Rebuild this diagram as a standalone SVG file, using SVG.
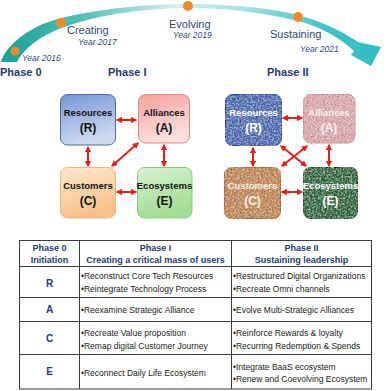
<svg xmlns="http://www.w3.org/2000/svg" width="387" height="391" viewBox="0 0 387 391">
<defs>
<linearGradient id="tl" gradientUnits="userSpaceOnUse" x1="0" y1="0" x2="387" y2="0">
<stop offset="0" stop-color="#16a096"/><stop offset="0.2" stop-color="#4dbdb6"/><stop offset="0.45" stop-color="#d2efee"/><stop offset="0.62" stop-color="#a9e2e2"/><stop offset="0.85" stop-color="#3ec3c5"/><stop offset="1" stop-color="#2ebcc0"/>
</linearGradient>
<linearGradient id="gR" x1="0" y1="0" x2="0.3" y2="1"><stop offset="0" stop-color="#7595d6"/><stop offset="1" stop-color="#cfdaf1"/></linearGradient>
<linearGradient id="gA" x1="0" y1="0" x2="0.3" y2="1"><stop offset="0" stop-color="#f5a19c"/><stop offset="1" stop-color="#fde0dd"/></linearGradient>
<linearGradient id="gC" x1="0" y1="0" x2="0.3" y2="1"><stop offset="0" stop-color="#fee8cf"/><stop offset="1" stop-color="#f9c189"/></linearGradient>
<linearGradient id="gE" x1="0" y1="0" x2="0.3" y2="1"><stop offset="0" stop-color="#d8f2d1"/><stop offset="1" stop-color="#a3dc95"/></linearGradient>
<filter id="grain" x="-5%" y="-5%" width="110%" height="110%">
<feTurbulence type="fractalNoise" baseFrequency="0.55" numOctaves="2" seed="4" result="n"/>
<feColorMatrix in="n" type="matrix" values="0 0 0 0 0  0 0 0 0 0  0 0 0 0 0  0 0 0 -1.3 0.72" result="dk"/>
<feComposite in="dk" in2="SourceAlpha" operator="in" result="d2"/>
<feColorMatrix in="n" type="matrix" values="0 0 0 0 1  0 0 0 0 1  0 0 0 0 1  1.1 0 0 0 -0.48" result="lt"/>
<feComposite in="lt" in2="SourceAlpha" operator="in" result="l2"/>
<feMerge><feMergeNode in="SourceGraphic"/><feMergeNode in="d2"/><feMergeNode in="l2"/></feMerge>
</filter>
<marker id="ah" viewBox="0 0 10 10" refX="8" refY="5" markerWidth="3.2" markerHeight="3.2" orient="auto-start-reverse">
<path d="M0,0 L10,5 L0,10 z" fill="#e3201b"/>
</marker>
<style>
.ph{font-family:"Liberation Sans",Arial,sans-serif;font-weight:bold;font-size:11px;fill:#1f3b73}
.st{font-family:"Liberation Sans",Arial,sans-serif;font-size:11px;fill:#2b4a7c}
.yr{font-family:"Liberation Sans",Arial,sans-serif;font-style:italic;font-size:8.5px;fill:#2b4a7c}
.nm{font-family:"Liberation Sans",Arial,sans-serif;font-weight:bold;font-size:9.5px;text-anchor:middle;fill:#111}
.lt{font-family:"Liberation Sans",Arial,sans-serif;font-weight:bold;font-size:12px;text-anchor:middle;fill:#111}
.w{fill:#ffffff}
.con line{stroke:#e3201b;stroke-width:2;marker-start:url(#ah);marker-end:url(#ah)}
.th{font-family:"Liberation Sans",Arial,sans-serif;font-weight:bold;font-size:9px;text-anchor:middle;fill:#1f3b73}
.tl{font-family:"Liberation Sans",Arial,sans-serif;font-weight:bold;font-size:10px;text-anchor:middle;fill:#1f3b73}
.tx{font-family:"Liberation Sans",Arial,sans-serif;font-size:8.5px;fill:#222}
.grid{stroke:#3c3c3c;stroke-width:1;fill:none}
.dot{fill:#f28a2c}
</style>
</defs>
<rect width="387" height="391" fill="#ffffff"/>

<g id="timeline">
<path d="M1,62 C6,45 30,26 58,19 C100,8 150,4 188,4 C230,4 270,8 298,15 C320,21 340,30 358,42 L381,47 L371,66 L351,55 L354,51 C340,38 322,27 298,21 C270,14 230,8 188,8 C150,8 100,14 64,27 C40,36 24,48 17,62 Z" fill="url(#tl)"/>
<circle class="dot" cx="15" cy="51" r="4.5"/>
<circle class="dot" cx="61" cy="23" r="5"/>
<circle class="dot" cx="188" cy="6" r="5"/>
<circle class="dot" cx="298" cy="17" r="5"/>
<text class="yr" x="22" y="61">Year 2016</text>
<text class="st" x="67" y="34">Creating</text>
<text class="yr" x="78" y="45">Year 2017</text>
<text class="st" x="169" y="28">Evolving</text>
<text class="yr" x="173" y="38">Year 2019</text>
<text class="st" x="270" y="38">Sustaining</text>
<text class="yr" x="300" y="52">Year 2021</text>
<text class="ph" x="0" y="76">Phase 0</text>
<text class="ph" x="108" y="76">Phase I</text>
<text class="ph" x="267" y="76">Phase II</text>
</g>

<g id="p1-resources"><rect x="60.5" y="94.5" width="55" height="50.5" rx="7" fill="url(#gR)" stroke="#4868a6"/><text class="nm" x="88" y="116">Resources</text><text class="lt" x="88" y="132">(R)</text></g>
<g id="p1-alliances"><rect x="138.5" y="94.5" width="51" height="48.5" rx="7" fill="url(#gA)" stroke="#e08983"/><text class="nm" x="164" y="116">Alliances</text><text class="lt" x="164" y="132">(A)</text></g>
<g id="p1-customers"><rect x="60.5" y="167.5" width="55" height="50.5" rx="7" fill="url(#gC)" stroke="#f3b478"/><text class="nm" x="88" y="189">Customers</text><text class="lt" x="88" y="205">(C)</text></g>
<g id="p1-ecosystems"><rect x="137.5" y="167.5" width="54.5" height="50.5" rx="7" fill="url(#gE)" stroke="#86cc77"/><text class="nm" x="164.5" y="189">Ecosystems</text><text class="lt" x="164.5" y="205">(E)</text></g>

<g id="p2-resources"><rect x="225.5" y="94.5" width="56" height="51" rx="7" fill="#4d6eb9" stroke="#2d4a8e" filter="url(#grain)"/><text class="nm w" x="253.5" y="116">Resources</text><text class="lt w" x="253.5" y="132">(R)</text></g>
<g id="p2-alliances"><rect x="303.5" y="94.5" width="51.5" height="48.5" rx="7" fill="#e2adb2" stroke="#d596a0" filter="url(#grain)"/><text class="nm" x="329" y="116" style="fill:#fbf0f1">Alliances</text><text class="lt" x="329" y="132" style="fill:#fbf0f1">(A)</text></g>
<g id="p2-customers"><rect x="224.5" y="167.5" width="56" height="51" rx="7" fill="#c68a52" stroke="#a86e3b" filter="url(#grain)"/><text class="nm" x="252.5" y="189" style="fill:#fbefe2">Customers</text><text class="lt" x="252.5" y="205" style="fill:#fbefe2">(C)</text></g>
<g id="p2-ecosystems"><rect x="303.5" y="167.5" width="54" height="51" rx="7" fill="#2c6c3a" stroke="#1d4d28" filter="url(#grain)"/><text class="nm w" x="330.5" y="189">Ecosystems</text><text class="lt w" x="330.5" y="205">(E)</text></g>

<g id="connectors" class="con">
<line x1="117" y1="120" x2="136" y2="120"/>
<line x1="88" y1="147" x2="88" y2="166"/>
<line x1="164" y1="145" x2="164" y2="166"/>
<line x1="112" y1="166" x2="138" y2="143"/>
<line x1="117" y1="192" x2="136" y2="192"/>
<line x1="283" y1="118" x2="302" y2="118"/>
<line x1="253" y1="148" x2="253" y2="166"/>
<line x1="329" y1="145" x2="329" y2="166"/>
<line x1="281" y1="146" x2="306" y2="166"/>
<line x1="282" y1="166" x2="307" y2="146"/>
<line x1="282" y1="192" x2="302" y2="192"/>
</g>

<g id="table">
<rect class="grid" x="19.5" y="240.5" width="352" height="148.5"/>
<line class="grid" x1="79.5" y1="240" x2="79.5" y2="389"/>
<line class="grid" x1="231.5" y1="240" x2="231.5" y2="389"/>
<line class="grid" x1="19" y1="266.5" x2="372" y2="266.5"/>
<line class="grid" x1="19" y1="297.5" x2="372" y2="297.5"/>
<line class="grid" x1="19" y1="321.5" x2="372" y2="321.5"/>
<line class="grid" x1="19" y1="354.5" x2="372" y2="354.5"/>
<text class="th" x="49.5" y="251">Phase 0</text>
<text class="th" x="49.5" y="263">Initiation</text>
<text class="th" x="155.5" y="251">Phase I</text>
<text class="th" x="155.5" y="263">Creating a critical mass of users</text>
<text class="th" x="301.5" y="251">Phase II</text>
<text class="th" x="301.5" y="263">Sustaining leadership</text>
<text class="tl" x="49.5" y="287">R</text>
<text class="tl" x="49.5" y="313">A</text>
<text class="tl" x="49.5" y="342">C</text>
<text class="tl" x="49.5" y="375">E</text>
<text class="tx" x="81" y="279">•Reconstruct Core Tech Resources</text>
<text class="tx" x="81" y="292">•Reintegrate Technology Process</text>
<text class="tx" x="81" y="313">•Reexamine Strategic Alliance</text>
<text class="tx" x="81" y="336">•Recreate Value proposition</text>
<text class="tx" x="81" y="349">•Remap digital Customer Journey</text>
<text class="tx" x="81" y="376">•Reconnect Daily Life Ecosystem</text>
<text class="tx" x="233" y="279">•Restructured Digital Organizations</text>
<text class="tx" x="233" y="292">•Recreate Omni channels</text>
<text class="tx" x="233" y="313">•Evolve Multi-Strategic Alliances</text>
<text class="tx" x="233" y="336">•Reinforce Rewards &amp; loyalty</text>
<text class="tx" x="233" y="349">•Recurring Redemption &amp; Spends</text>
<text class="tx" x="233" y="370">•Integrate BaaS ecosystem</text>
<text class="tx" x="233" y="382">•Renew and Coevolving Ecosystem</text>
</g>
</svg>
